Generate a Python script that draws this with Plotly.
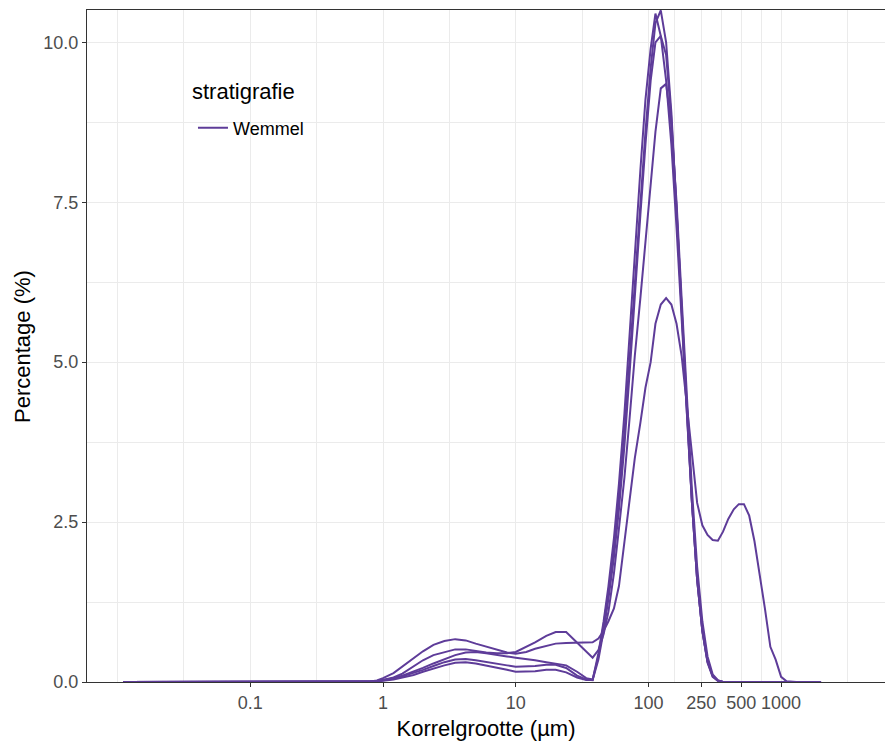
import plotly.graph_objects as go

# Particle size classes (µm)
sizes = [0.011, 0.1, 0.5, 0.7, 0.8, 0.9,
         1.0, 1.2, 1.4, 1.7, 2.0, 2.4, 2.9, 3.5, 4.2, 5.0, 6.0, 7.2, 8.6, 10, 12, 14, 17, 20, 24, 29,
         34, 38,
         42, 46, 50, 55, 60, 66, 72, 79, 87, 95, 104, 113, 124, 136, 149, 163, 178, 195, 213, 233, 255, 279, 305, 334,
         365, 400, 440, 480, 525, 575, 630, 690, 755, 830, 910, 1000, 1100, 1300, 2000]

sample_a = [0, 0, 0, 0, 0.005, 0.015,
            0.03, 0.06, 0.10, 0.16, 0.22, 0.29, 0.36, 0.42, 0.46, 0.47, 0.45, 0.42, 0.40, 0.38, 0.36, 0.34, 0.31, 0.29, 0.26, 0.16,
            0.06, 0.04,
            0.40, 0.90, 1.40, 2.10, 2.90, 3.90, 5.00, 6.30, 7.50, 8.60, 9.60, 10.30, 10.50, 10.00, 8.90, 7.40, 5.90, 4.30, 2.80, 1.60, 0.80, 0.30, 0.08, 0.02,
            0, 0, 0, 0, 0, 0, 0, 0, 0, 0, 0, 0, 0, 0, 0]

sample_b = [0, 0, 0, 0, 0.004, 0.012,
            0.03, 0.05, 0.09, 0.14, 0.19, 0.25, 0.31, 0.35, 0.36, 0.34, 0.31, 0.28, 0.26, 0.24, 0.24, 0.25, 0.27, 0.27, 0.22, 0.10,
            0.04, 0.03,
            0.45, 0.95, 1.50, 2.25, 3.10, 4.20, 5.40, 6.70, 8.00, 9.10, 9.90, 10.45, 10.10, 9.40, 8.40, 7.10, 5.70, 4.20, 2.80, 1.60, 0.80, 0.32, 0.09, 0.02,
            0, 0, 0, 0, 0, 0, 0, 0, 0, 0, 0, 0, 0, 0, 0]

sample_c = [0, 0, 0, 0, 0.004, 0.01,
            0.02, 0.04, 0.07, 0.11, 0.16, 0.21, 0.26, 0.30, 0.31, 0.29, 0.26, 0.22, 0.19, 0.16, 0.16, 0.17, 0.19, 0.19, 0.15, 0.07,
            0.03, 0.03,
            0.35, 0.80, 1.30, 1.95, 2.70, 3.70, 4.80, 6.10, 7.30, 8.40, 9.40, 10.00, 10.10, 9.80, 8.80, 7.40, 5.80, 4.20, 2.80, 1.60, 0.80, 0.32, 0.10, 0.02,
            0, 0, 0, 0, 0, 0, 0, 0, 0, 0, 0, 0, 0, 0, 0]

sample_d = [0, 0, 0, 0, 0.004, 0.01,
            0.03, 0.07, 0.13, 0.24, 0.34, 0.42, 0.47, 0.51, 0.51, 0.48, 0.46, 0.45, 0.45, 0.47, 0.55, 0.62, 0.72, 0.78, 0.78, 0.62,
            0.47, 0.38,
            0.50, 0.75, 1.10, 1.70, 2.40, 3.20, 4.10, 5.10, 6.00, 6.90, 7.80, 8.60, 9.28, 9.35, 8.70, 7.50, 6.00, 4.40, 3.00, 1.80, 0.95, 0.40, 0.12, 0.03,
            0, 0, 0, 0, 0, 0, 0, 0, 0, 0, 0, 0, 0, 0, 0]

sample_e = [0, 0, 0, 0, 0.008, 0.025,
            0.06, 0.14, 0.24, 0.37, 0.48, 0.58, 0.64, 0.67, 0.65, 0.60, 0.55, 0.50, 0.46, 0.44, 0.47, 0.52, 0.57, 0.60, 0.61, 0.61,
            0.61, 0.62,
            0.68, 0.80, 0.95, 1.15, 1.50, 2.20, 2.90, 3.50, 4.05, 4.60, 5.00, 5.60, 5.90, 6.00, 5.90, 5.60, 5.10, 4.30, 3.50, 2.80, 2.45, 2.30, 2.22, 2.21,
            2.35, 2.55, 2.70, 2.78, 2.78, 2.60, 2.20, 1.70, 1.15, 0.55, 0.35, 0.08, 0.01, 0, 0]

samples = [sample_a, sample_b, sample_c, sample_d, sample_e]

x_tickvals = [0.1, 1, 10, 100, 250, 500, 1000]
x_ticktext = ["0.1", "1", "10", "100", "250", "500", "1000"]
x_minor = [0.01, 0.0316228, 0.316228, 3.16228, 31.6228, 158.114, 353.553, 707.107, 3162.28]
y_tickvals = [0, 2.5, 5, 7.5, 10]
y_ticktext = ["0.0", "2.5", "5.0", "7.5", "10.0"]
y_minor = [1.25, 3.75, 6.25, 8.75]

color = "#5E3C99"
font_family = "Liberation Sans, Arial, sans-serif"

fig = go.Figure()
for i, s in enumerate(samples):
    assert len(s) == len(sizes)
    fig.add_trace(go.Scatter(
        x=sizes, y=s, mode="lines",
        line=dict(color=color, width=2),
        name="Wemmel", legendgroup="Wemmel", showlegend=(i == 0),
    ))

axis_common = dict(
    showline=True, linecolor="#333333", linewidth=1, mirror=True,
    ticks="outside", ticklen=4, tickwidth=1, tickcolor="#333333",
    showgrid=True, gridcolor="#EBEBEB", gridwidth=1.3,
    zeroline=False,
    tickfont=dict(family=font_family, size=18, color="#4D4D4D"),
)

# white legend background box (above gridlines, below traces)
fig.add_shape(type="rect", xref="paper", yref="paper",
              x0=0.1128, x1=0.292, y0=0.784, y1=0.918,
              fillcolor="white", line=dict(width=0), layer="between")

fig.add_annotation(text="stratigrafie", xref="paper", yref="paper",
                   x=0.1291, y=0.878, xanchor="left", yanchor="middle",
                   showarrow=False, font=dict(family=font_family, size=22, color="black"))

# y-axis title
fig.add_annotation(text="Percentage (%)", xref="paper", yref="paper",
                   x=-0.0815, y=0.5, xanchor="center", yanchor="middle", textangle=-90,
                   showarrow=False, font=dict(family=font_family, size=22, color="black"))

fig.update_layout(
    width=885, height=742,
    margin=dict(l=87, r=0, t=10, b=60),
    paper_bgcolor="white", plot_bgcolor="white",
    font=dict(family=font_family, color="black"),
    xaxis=dict(
        type="log", range=[-2.2306, 3.783],
        tickmode="array", tickvals=x_tickvals, ticktext=x_ticktext,
        minor=dict(tickmode="array", tickvals=x_minor, showgrid=True, gridcolor="#EBEBEB", gridwidth=1.0, ticks=""),
        title=dict(text="Korrelgrootte (µm)", font=dict(family=font_family, size=22, color="black"), standoff=9),
        **axis_common,
    ),
    yaxis=dict(
        range=[0, 10.505],
        tickmode="array", tickvals=y_tickvals, ticktext=y_ticktext,
        minor=dict(tickmode="array", tickvals=y_minor, showgrid=True, gridcolor="#EBEBEB", gridwidth=1.0, ticks=""),
        **axis_common,
    ),
    legend=dict(
        x=0.1328, y=0.8244, xanchor="left", yanchor="middle",
        bgcolor="rgba(0,0,0,0)", borderwidth=0,
        font=dict(family=font_family, size=18, color="black"),
    ),
    showlegend=True,
)

fig.write_html("out.html")
